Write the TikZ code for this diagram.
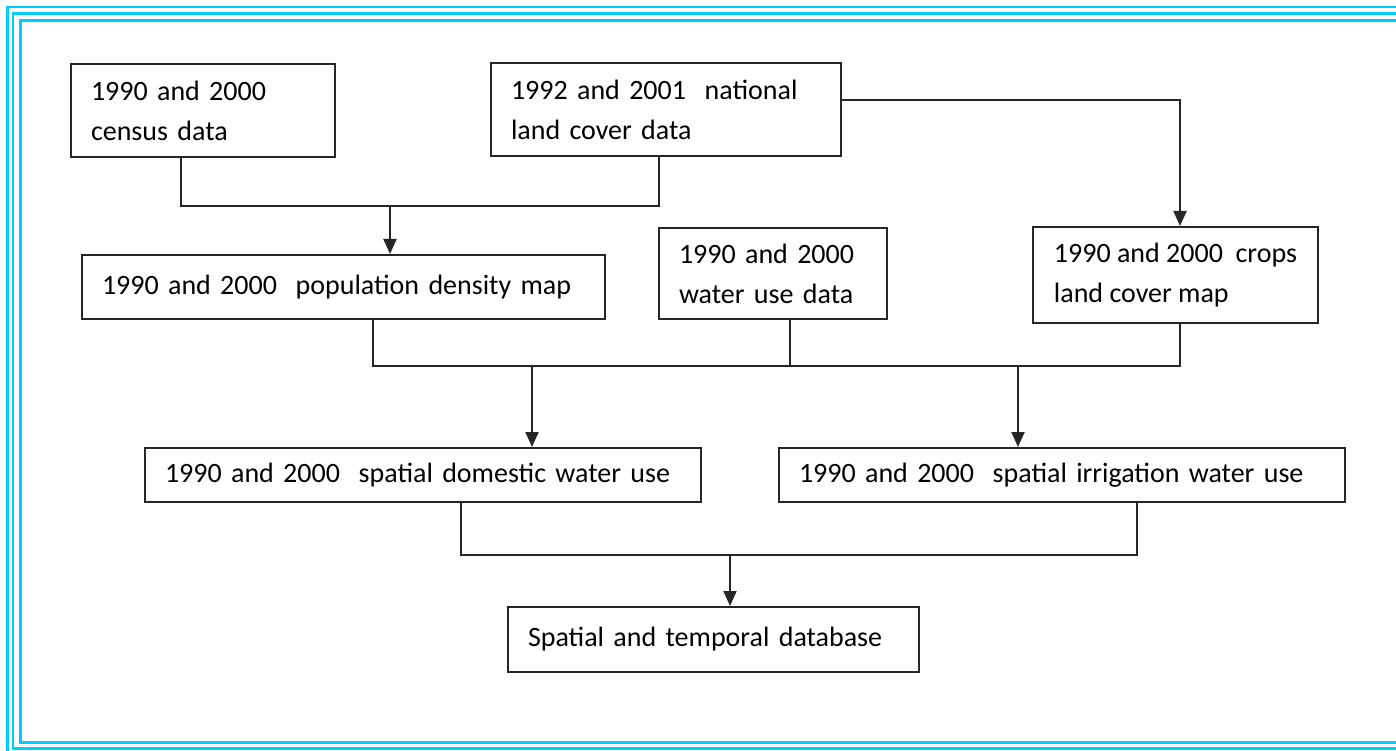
\documentclass[tikz,border=0pt]{standalone}
\usepackage{fontspec}
\setmainfont{Carlito}
\usepackage{tikz}
\usepackage{xcolor}
\usetikzlibrary{arrows.meta}

\begin{document}
\begin{tikzpicture}[x=1pt,y=-1pt,
  databox/.style={draw=black!85,line width=2pt,fill=white,inner xsep=20pt,inner ysep=4pt,
    align=left,font=\fontsize{28pt}{40pt}\selectfont},
  link/.style={line width=2pt,black!85},
  arr/.style={link,-{Triangle[length=15pt,width=13pt]}},
  frame/.style={draw=framecyan,line width=2.6pt}]
\definecolor{framecyan}{HTML}{00CCFF}
\clip (0,0) rectangle (1396,751);
\fill[white] (0,0) rectangle (1396,751);
  \foreach \xa/\ya/\xb/\yb in {7.5/7/1410/755,13/13.5/1403/748.5,20.5/20.5/1397/742.5}
  {  \draw[frame] (\xa,\ya) rectangle (\xb,\yb);}
% input data
\node[databox,text width=224pt,minimum height=93pt] (census) at (203,111) {1990 and 2000\\census data};
\node[databox,text width=310pt,minimum height=93pt] (nlcd) at (666,109.5) {1992 and 2001~~national\\land cover data};
\node[databox,text width=483pt,minimum height=64pt] (popmap) at (343.5,287) {1990 and 2000~~population density map};
\node[databox,text width=188pt,minimum height=91pt] (wateruse) at (773,273.5) {1990 and 2000\\water use data};
\node[databox,minimum width=285pt,minimum height=96pt] (crops) at (1175.5,275) {1990 and 2000~~crops\\land cover map};
% results
\node[databox,text width=516pt,minimum height=54pt] (domestic) at (423,475) {1990 and 2000~~spatial domestic water use};
\node[databox,text width=526pt,minimum height=54pt] (irrigation) at (1062,475) {1990 and 2000~~spatial irrigation water use};
\node[databox,text width=371pt,minimum height=65pt] (database) at (713.5,639.5) {Spatial and temporal database};
% junctions
\coordinate (j1) at (390,206);
\coordinate (j2) at (532,366);
\coordinate (j3) at (1018,366);
\coordinate (j4) at (730,555);
\draw[link] ([xshift=-22pt]census.south) |- (j1) -| ([xshift=-7pt]nlcd.south);
\draw[arr] (j1) -- (j1 |- popmap.north);
\draw[arr] ([yshift=9.5pt]nlcd.east) -| ([xshift=4.5pt]crops.north);
\draw[link] ([xshift=29.5pt]popmap.south) |- (j2) -- (j3) -| ([xshift=4.5pt]crops.south);
\draw[link] ([xshift=17pt]wateruse.south) |- (j3);
\draw[arr] (j2) -- (j2 |- domestic.north);
\draw[arr] (j3) -- (j3 |- irrigation.north);
\draw[link] ([xshift=38pt]domestic.south) |- (j4) -| ([xshift=75pt]irrigation.south);
\draw[arr] (j4) -- (j4 |- database.north);
\end{tikzpicture}
\end{document}
